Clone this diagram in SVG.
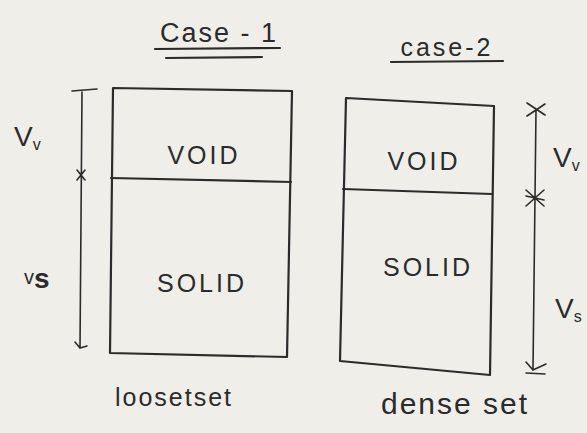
<svg xmlns="http://www.w3.org/2000/svg" width="587" height="433" viewBox="0 0 587 433">
<style>
.ln{fill:none;stroke:#2b2b2b;stroke-width:2.2;stroke-linecap:round;stroke-linejoin:round}
.tn{fill:none;stroke:#2b2b2b;stroke-width:1.6;stroke-linecap:round}
text{font-family:"Liberation Sans",Arial,sans-serif;fill:#2b2b2b}
.lab{font-size:25px;text-anchor:middle;letter-spacing:3px}
.sub{font-size:16px}
</style>
<rect width="587" height="433" fill="#efeee8"/>
<g id="title1">
<text x="219" y="42" font-size="27" text-anchor="middle" letter-spacing="2">Case - 1</text>
<path class="ln" d="M155 49 L280 48 M166 58 L262 57"/>
</g>
<g id="title2">
<text x="447" y="56" font-size="25" text-anchor="middle" letter-spacing="3">case-2</text>
<path class="ln" d="M391 62 L503 61"/>
</g>
<g id="case1-box">
<path class="ln" d="M113 88 L292 91 L287 357 L110 353 Z"/>
<path class="ln" d="M111 178 L291 182"/>
<text class="lab" x="204" y="164">VOID</text>
<text class="lab" x="202" y="292" font-size="27">SOLID</text>
</g>
<g id="case2-box">
<path class="ln" d="M346 98 L494 106 L490 375 L340 361 Z"/>
<path class="ln" d="M343 189 L492 194"/>
<text class="lab" x="424" y="170">VOID</text>
<text class="lab" x="428" y="276" font-size="27">SOLID</text>
</g>
<g id="connectors">
<path class="tn" d="M82 92 L80 348 M72 91 L97 89 M77 170 L85 180 M85 170 L77 180 M75 342 L80 348 L87 346"/>
<path class="tn" d="M536 110 L533 370 M527 103 L545 115 M545 104 L527 116 M526 190 L544 206 M544 190 L526 206 M526 196 L544 200 M526 362 L533 370 L546 364 M526 373 L545 374"/>
</g>
<g id="labels">
<text x="14" y="146" font-size="28">V<tspan class="sub" dy="4">v</tspan></text>
<text x="24" y="284" font-size="20">v<tspan font-size="28" font-weight="bold" dy="4">s</tspan></text>
<text x="553" y="167" font-size="28">V<tspan class="sub" dy="4">v</tspan></text>
<text x="555" y="318" font-size="28">V<tspan class="sub" dy="4">s</tspan></text>
<text x="174" y="406" font-size="25" text-anchor="middle" letter-spacing="2">loosetset</text>
<text x="455" y="414" font-size="30" text-anchor="middle" letter-spacing="2">dense  set</text>
</g>
</svg>
